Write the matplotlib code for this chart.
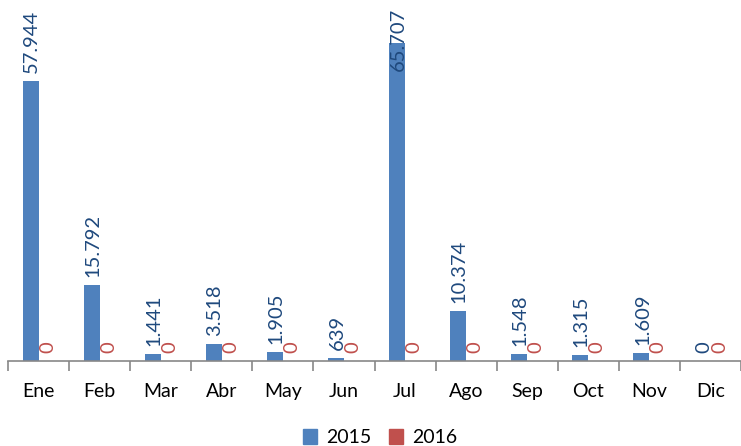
import matplotlib.pyplot as plt
from matplotlib.patches import Patch
import numpy as np

plt.rcParams['font.family'] = ['Lato', 'DejaVu Sans']

months = ["Ene", "Feb", "Mar", "Abr", "May", "Jun",
          "Jul", "Ago", "Sep", "Oct", "Nov", "Dic"]
vals_2015 = [57944, 15792, 1441, 3518, 1905, 639,
             65707, 10374, 1548, 1315, 1609, 0]
vals_2016 = [0, 0, 0, 0, 0, 0, 0, 0, 0, 0, 0, 0]

BLUE = "#4F81BD"
RED = "#C0504D"
BLUE_TXT = "#1F497D"
AXIS_GREY = "#878787"


def fmt(v):
    # Spanish thousands separator
    return f"{v:,}".replace(",", ".")


W, H = 741, 446
fig = plt.figure(figsize=(W / 100, H / 100), dpi=100)
base_px = 361
ax = fig.add_axes([8 / W, (H - base_px) / H, 1 - 8 / W, base_px / H])

x = np.arange(len(months))
bw = 0.26
ax.bar(x - bw / 2, vals_2015, bw, color=BLUE, linewidth=0)
ax.bar(x + bw / 2, vals_2016, bw, color=RED, linewidth=0)

# bar of 57944 is 280 px tall
ax.set_ylim(0, base_px * 57944 / 280)
ax.set_xlim(-0.5, len(months) - 0.5)

labels = []
for xi, v in zip(x, vals_2015):
    labels.append(ax.annotate(fmt(v), (xi - bw / 2, v), xytext=(1, 8),
                              textcoords="offset pixels", rotation=90,
                              ha="center", va="bottom", fontsize=14.5,
                              color=BLUE_TXT, annotation_clip=False))
for xi, v in zip(x, vals_2016):
    labels.append(ax.annotate(fmt(v), (xi + bw / 2, v), xytext=(1, 8),
                              textcoords="offset pixels", rotation=90,
                              ha="center", va="bottom", fontsize=14.5,
                              color=RED, annotation_clip=False))

# keep value labels inside the chart area
fig.canvas.draw()
renderer = fig.canvas.get_renderer()
top_limit = H - 8
for t in labels:
    ext = t.get_window_extent(renderer)
    if ext.y1 > top_limit:
        dx, dy = t.xyann
        t.xyann = (dx, dy - (ext.y1 - top_limit))

for side in ["top", "right", "left"]:
    ax.spines[side].set_visible(False)
ax.spines["bottom"].set_color(AXIS_GREY)
ax.spines["bottom"].set_linewidth(1.2)
ax.set_yticks([])

ax.set_xticks(x)
ax.set_xticklabels(months, fontsize=14)
ax.tick_params(axis="x", which="major", length=0, pad=16)
ax.set_xticks(np.arange(-0.5, len(months) + 0.5, 1), minor=True)
ax.tick_params(axis="x", which="minor", length=7, width=1.2, color=AXIS_GREY)

handles = [Patch(color=BLUE, label="2015"), Patch(color=RED, label="2016")]
fig.legend(handles=handles, loc="lower center", bbox_to_anchor=(380 / W, -0.04),
           ncol=2, frameon=False, fontsize=14, handlelength=0.75,
           handleheight=0.75, handletextpad=0.45, columnspacing=0.9)

fig.savefig("out.png", dpi=100)
